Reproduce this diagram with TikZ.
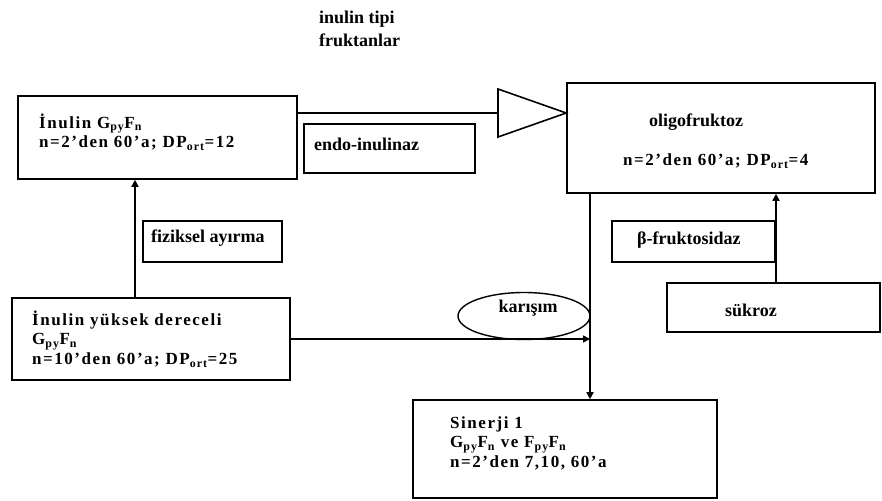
\documentclass[tikz,border=0pt]{standalone}
\usepackage{fontspec}
\setmainfont{Liberation Serif}
\usetikzlibrary{arrows.meta,shapes.geometric}
\begin{document}
\begin{tikzpicture}[x=1pt,y=-1pt,
  box/.style={draw,line width=1.6pt,inner sep=0pt},
  lbl/.style={font=\bfseries\fontsize{18}{22}\selectfont,anchor=west,inner sep=0pt,align=left},
  wlbl/.style={lbl,font=\bfseries\fontsize{17}{19.5}\selectfont\addfontfeatures{LetterSpace=9}},
  conn/.style={line width=1.6pt},
  arr/.style={conn,-{Triangle[length=7pt,width=7pt]}}]
\useasboundingbox (0,0) rectangle (882,500);

% boxes
\node[box,minimum width=279pt,minimum height=83pt] (A) at (157.5,137.5) {};
\node[box,minimum width=171pt,minimum height=49pt] (endo) at (389.5,148.5) {};
\node[box,minimum width=308pt,minimum height=110pt] (O) at (721,138) {};
\node[box,minimum width=139pt,minimum height=41pt] (fiz) at (212.5,241.5) {};
\node[box,minimum width=163pt,minimum height=41pt] (beta) at (693.5,241.5) {};
\node[box,minimum width=278pt,minimum height=82pt] (C) at (151,339) {};
\node[box,minimum width=213pt,minimum height=49pt] (suk) at (773.5,307.5) {};
\node[box,minimum width=304pt,minimum height=98pt] (S) at (565,449) {};
\node[draw,ellipse,line width=1.4pt,minimum width=132pt,minimum height=47pt,inner sep=0pt] (E) at (524,316) {};

% texts
\node[lbl,font=\bfseries\fontsize{18}{23}\selectfont] (top) at (319,28.5) {inulin tipi\\fruktanlar};
\node[wlbl] (At) at (39,132) {İnulin G\textsubscript{py}F\textsubscript{n}\\n=2’den 60’a; DP\textsubscript{ort}=12};
\node[lbl] (endot) at (314,144) {endo-inulinaz};
\node[lbl,anchor=center] (Ot1) at (696,122) {oligofruktoz};
\node[wlbl] (Ot2) at (623,161) {n=2’den 60’a; DP\textsubscript{ort}=4};
\node[lbl] (fizt) at (151,238) {fiziksel ayırma};
\node[lbl] (betat) at (637,240) {β-fruktosidaz};
\node[wlbl] (Ct) at (32,339) {İnulin yüksek dereceli\\G\textsubscript{py}F\textsubscript{n}\\n=10’den 60’a; DP\textsubscript{ort}=25};
\node[lbl,anchor=center] (Et) at (528,308) {karışım};
\node[lbl,anchor=center] (sukt) at (751,310) {sükroz};
\node[wlbl] (St) at (450,443) {Sinerji 1\\G\textsubscript{py}F\textsubscript{n} ve F\textsubscript{py}F\textsubscript{n}\\n=2’den 7,10, 60’a};

% hollow triangle
\coordinate (triA) at (498,89);
\coordinate (triB) at (498,137);
\coordinate (triL) at (498,113);
\draw[conn,line join=miter] (triA) -- (O.west |- triL) -- (triB) -- cycle;
\draw[conn] (A.east |- triL) -- (triL);

% connectors
\coordinate (xa) at (135,0);
\coordinate (xm) at (590,0);
\coordinate (xs) at (776,0);
\draw[arr] (C.north -| xa) -- (A.south -| xa);
\draw[arr] (C.east) -- (C.east -| xm);
\draw[arr] (O.south -| xm) -- (S.north -| xm);
\draw[arr] (suk.north -| xs) -- (O.south -| xs);
\end{tikzpicture}
\end{document}
